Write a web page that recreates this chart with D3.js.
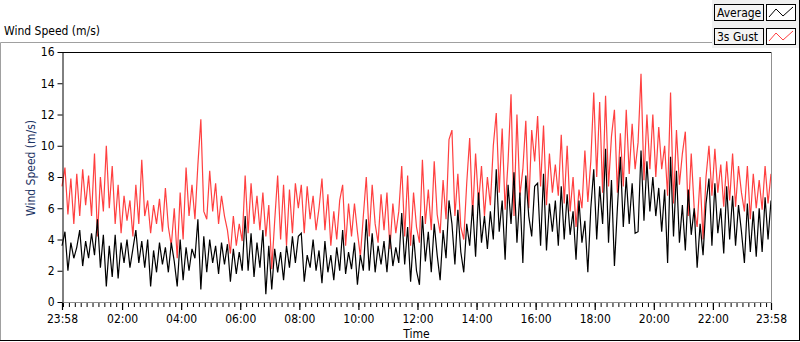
<!DOCTYPE html>
<html>
<head>
<meta charset="utf-8">
<script src="https://cdn.jsdelivr.net/npm/d3@7"></script>
<style>
  body { margin: 0; background: #fff; }
  svg text { font-family: "DejaVu Sans Condensed", "DejaVu Sans", sans-serif; font-size: 12px; }
</style>
</head>
<body>
<div id="chart"></div>
<script>
// wind speed record, one sample every 6 minutes starting 23:58
var startTime = new Date(2020, 0, 1, 23, 58);
var stepMinutes = 6;

var gust = [
  7.4, 8.6, 5.6, 7.9, 5.0, 8.2, 5.5, 8.5, 6.2, 8.1, 5.5, 9.5, 4.2, 8.0, 5.8, 10.0, 6.0, 8.7, 5.0, 7.5,
  4.4, 6.8, 5.2, 6.5, 4.2, 7.5, 5.0, 9.1, 5.5, 6.5, 4.4, 6.2, 5.0, 6.6, 4.5, 7.3, 4.8, 3.6, 6.0, 2.8,
  7.0, 4.0, 8.6, 5.5, 7.5, 5.3, 8.8, 11.7, 5.8, 5.3, 8.4, 5.8, 7.6, 5.0, 6.8, 5.5, 4.6, 3.1, 5.5, 3.6,
  5.0, 3.9, 8.1, 4.4, 7.6, 5.0, 6.8, 4.6, 7.0, 4.2, 6.2, 2.1, 5.2, 8.1, 4.0, 7.5, 3.6, 7.2, 4.4, 7.6,
  6.0, 7.5, 4.4, 7.4, 5.3, 6.8, 4.6, 6.0, 7.9, 4.6, 6.9, 3.6, 5.8, 4.0, 6.5, 7.5, 3.6, 6.3, 4.2, 6.3,
  4.5, 2.9, 5.5, 8.0, 4.2, 7.5, 5.0, 3.8, 6.9, 4.6, 7.0, 3.4, 6.3, 4.4, 5.8, 8.7, 4.2, 8.1, 3.6, 7.0,
  4.8, 3.8, 9.1, 5.0, 7.2, 4.6, 9.0, 5.6, 4.4, 7.8, 5.3, 10.4, 11.0, 5.5, 8.2, 4.8, 4.0, 7.6, 10.5, 5.5,
  9.5, 6.3, 8.7, 5.5, 8.0, 6.2, 10.0, 12.1, 7.0, 11.1, 5.9, 9.0, 13.3, 5.5, 12.0, 6.8, 8.5, 11.6, 6.0, 11.0,
  9.0, 11.9, 7.4, 11.3, 6.2, 9.5, 7.0, 8.8, 6.8, 10.7, 6.3, 10.0, 5.8, 8.0, 4.8, 7.2, 6.0, 9.7, 6.4, 9.0,
  13.4, 8.0, 12.8, 7.0, 13.2, 7.4, 10.6, 12.3, 7.0, 10.8, 7.4, 12.3, 8.2, 11.4, 8.5, 10.2, 14.6, 7.8, 12.0, 8.5,
  12.0, 8.0, 11.2, 8.5, 10.0, 6.8, 13.4, 6.3, 11.0, 7.5, 9.5, 10.9, 5.5, 9.5, 6.0, 4.8, 8.0, 4.0, 8.0, 10.0,
  6.8, 9.8, 7.0, 8.8, 6.1, 9.0, 6.5, 9.5, 6.1, 8.7, 7.0, 5.8, 8.7, 5.3, 8.2, 6.0, 7.8, 5.9, 8.7, 6.3,
  8.2
];

var average = [
  3.6, 4.5, 2.0, 3.8, 2.8, 3.5, 4.6, 2.3, 3.9, 2.8, 4.4, 3.0, 5.3, 2.2, 4.3, 1.0, 3.6, 1.6, 4.3, 1.5,
  3.8, 2.5, 4.0, 2.2, 3.4, 4.6, 2.5, 3.9, 2.2, 4.0, 1.0, 3.3, 1.9, 3.8, 2.4, 3.5, 1.9, 3.8, 2.6, 1.0,
  4.0, 1.4, 3.5, 2.0, 3.4, 2.8, 5.3, 0.8, 4.2, 1.9, 4.0, 2.5, 3.6, 1.8, 3.8, 2.4, 3.7, 1.3, 3.4, 1.8,
  3.2, 2.0, 5.5, 2.0, 4.4, 1.6, 3.8, 2.2, 4.6, 0.5, 3.6, 0.8, 3.4, 1.9, 3.2, 1.4, 3.6, 2.2, 4.2, 2.5,
  4.2, 4.4, 1.3, 3.0, 2.2, 4.0, 2.0, 3.3, 1.2, 3.9, 1.9, 3.0, 1.4, 3.5, 2.0, 4.6, 1.8, 3.2, 2.1, 3.8,
  1.1, 3.0, 2.0, 5.3, 2.0, 4.4, 1.9, 3.6, 2.4, 3.9, 1.9, 4.3, 2.3, 3.5, 2.5, 5.7, 2.4, 4.8, 1.3, 4.3,
  2.0, 1.1, 5.5, 2.6, 4.5, 1.9, 5.0, 3.0, 1.4, 4.6, 2.8, 6.5, 5.0, 2.4, 5.9, 3.2, 1.9, 5.0, 3.6, 6.2,
  2.9, 7.0, 3.8, 5.5, 3.4, 5.8, 4.0, 8.5, 4.5, 6.5, 2.7, 7.5, 5.0, 8.3, 3.8, 7.0, 2.5, 8.1, 5.5, 4.2,
  7.4, 7.6, 3.6, 8.2, 3.3, 6.3, 4.5, 6.5, 3.6, 7.4, 4.0, 6.9, 4.3, 5.8, 2.7, 6.5, 3.8, 5.2, 1.9, 6.0,
  8.5, 4.0, 7.4, 5.0, 9.8, 3.8, 7.8, 2.3, 6.0, 9.3, 4.8, 8.0, 5.0, 7.6, 4.4, 4.5, 9.7, 5.2, 9.0, 5.8,
  8.0, 5.5, 7.3, 4.5, 7.2, 2.5, 9.3, 4.2, 8.4, 3.8, 6.2, 3.3, 7.2, 4.3, 6.0, 2.2, 5.0, 3.0, 6.3, 7.9,
  3.6, 7.6, 4.4, 6.0, 3.1, 7.4, 4.0, 6.8, 3.6, 6.2, 4.5, 2.5, 6.3, 3.2, 5.8, 2.9, 6.0, 3.2, 6.7, 4.0,
  6.5
];

var yTicks = [0, 2, 4, 6, 8, 10, 12, 14, 16];
var xTickLabels = ["23:58", "02:00", "04:00", "06:00", "08:00", "10:00", "12:00",
                   "14:00", "16:00", "18:00", "20:00", "22:00", "23:58"];
var legendNames = ["Average", "3s Gust"];
var legendColors = ["#000000", "#ff4040"];

var W = 800, H = 342;
var plot = {l: 62, r: 771, t: 52, b: 302};

var svg = d3.select("#chart").append("svg")
  .attr("width", W)
  .attr("height", H);

var endTime = d3.timeHour.offset(startTime, 24);

var x = d3.scaleTime()
  .domain([startTime, endTime])
  .range([plot.l, plot.r]);

var y = d3.scaleLinear()
  .domain([0, 16])
  .range([plot.b, plot.t]);

// outer panel frame (sunken look)
svg.append("line").attr("x1", 0.5).attr("y1", 42.5).attr("x2", 712).attr("y2", 42.5).attr("stroke", "#a0a0a0");
svg.append("line").attr("x1", 0.5).attr("y1", 42.5).attr("x2", 0.5).attr("y2", 341).attr("stroke", "#a0a0a0");
svg.append("line").attr("x1", 0).attr("y1", 340.5).attr("x2", 800).attr("y2", 340.5).attr("stroke", "#000");
svg.append("line").attr("x1", 799.5).attr("y1", 0).attr("x2", 799.5).attr("y2", 341).attr("stroke", "#000");

svg.append("text")
  .attr("x", 4)
  .attr("y", 35)
  .attr("fill", "#000")
  .text("Wind Speed (m/s)");

// plot area
svg.append("rect")
  .attr("x", plot.l).attr("y", plot.t)
  .attr("width", plot.r - plot.l).attr("height", plot.b - plot.t)
  .attr("fill", "#fff");

function timeAt(i) { return d3.timeMinute.offset(startTime, i * stepMinutes); }

var line = d3.line()
  .x(function(d, i) { return x(timeAt(i)); })
  .y(function(d) { return y(d); });

svg.append("path")
  .datum(gust)
  .attr("d", line)
  .attr("fill", "none")
  .attr("stroke", legendColors[1])
  .attr("stroke-width", 1.2);

svg.append("path")
  .datum(average)
  .attr("d", line)
  .attr("fill", "none")
  .attr("stroke", legendColors[0])
  .attr("stroke-width", 1.2);

// plot border: dark top/left, light bottom/right
svg.append("line").attr("x1", plot.l).attr("y1", plot.t + 0.5).attr("x2", plot.r).attr("y2", plot.t + 0.5).attr("stroke", "#000");
svg.append("line").attr("x1", plot.r + 0.5).attr("y1", plot.t).attr("x2", plot.r + 0.5).attr("y2", plot.b + 1).attr("stroke", "#909090");
svg.append("line").attr("x1", plot.l).attr("y1", plot.b + 0.5).attr("x2", plot.r + 1).attr("y2", plot.b + 0.5).attr("stroke", "#909090");

// y axis
var yAxis = d3.axisLeft(y).tickValues(yTicks).tickSize(5).tickPadding(3).tickSizeOuter(0);
var gy = svg.append("g")
  .attr("transform", "translate(" + (plot.l + 0.5) + ",0)")
  .call(yAxis);
gy.select(".domain").attr("stroke", "#000");
gy.selectAll("text").attr("fill", "#000").style("font-size", "12px").style("font-family", null);

svg.append("text")
  .attr("transform", "translate(35," + 168 + ") rotate(-90)")
  .attr("text-anchor", "middle")
  .attr("fill", "#1c3364")
  .text("Wind Speed (m/s)");

// x axis: minor ticks every 12 minutes from midnight
var minorTicks = d3.timeMinute.every(12).range(d3.timeDay.ceil(startTime), endTime);
var xMinor = d3.axisBottom(x).tickValues(minorTicks).tickSize(4).tickFormat("").tickSizeOuter(0);
var gxm = svg.append("g")
  .attr("transform", "translate(0," + (plot.b + 1) + ")")
  .call(xMinor);
gxm.select(".domain").remove();

var majorTicks = xTickLabels.map(function(lab, i) {
  if (i === 0) return startTime;
  if (i === xTickLabels.length - 1) return endTime;
  var p = lab.split(":");
  return new Date(2020, 0, 2, +p[0], +p[1]);
});
var xAxis = d3.axisBottom(x)
  .tickValues(majorTicks)
  .tickFormat(function(d, i) { return xTickLabels[i]; })
  .tickSize(7).tickPadding(4).tickSizeOuter(0);
var gx = svg.append("g")
  .attr("transform", "translate(0," + (plot.b + 1) + ")")
  .call(xAxis);
gx.select(".domain").remove();
gx.selectAll("line").attr("stroke-width", 1.2);
gx.selectAll("text").attr("fill", "#000").style("font-size", "12px").style("font-family", null);

svg.append("text")
  .attr("x", (plot.l + plot.r) / 2)
  .attr("y", 338)
  .attr("text-anchor", "middle")
  .attr("fill", "#000")
  .text("Time");

// legend
svg.append("rect")
  .attr("x", 712).attr("y", 0).attr("width", 87).attr("height", 48)
  .attr("fill", "#f0f0f0");

var leg = svg.selectAll(".legend")
  .data(legendNames)
  .enter().append("g")
  .attr("class", "legend")
  .attr("transform", function(d, i) { return "translate(0," + (i * 24) + ")"; });

leg.append("rect")
  .attr("x", 714.5).attr("y", 4.5).attr("width", 49).attr("height", 16)
  .attr("fill", "#f4f4f4").attr("stroke", "#000");

leg.append("text")
  .attr("x", 717).attr("y", 17)
  .attr("fill", "#000")
  .text(function(d) { return d; });

leg.append("rect")
  .attr("x", 766.5).attr("y", 4.5).attr("width", 29).attr("height", 16)
  .attr("fill", "#fff").attr("stroke", "#000");

var swatch = [[769, 17], [776, 9], [783, 16], [793, 7]];
leg.append("path")
  .attr("d", d3.line()(swatch))
  .attr("fill", "none")
  .attr("stroke", function(d, i) { return legendColors[i]; });
</script>
</body>
</html>
